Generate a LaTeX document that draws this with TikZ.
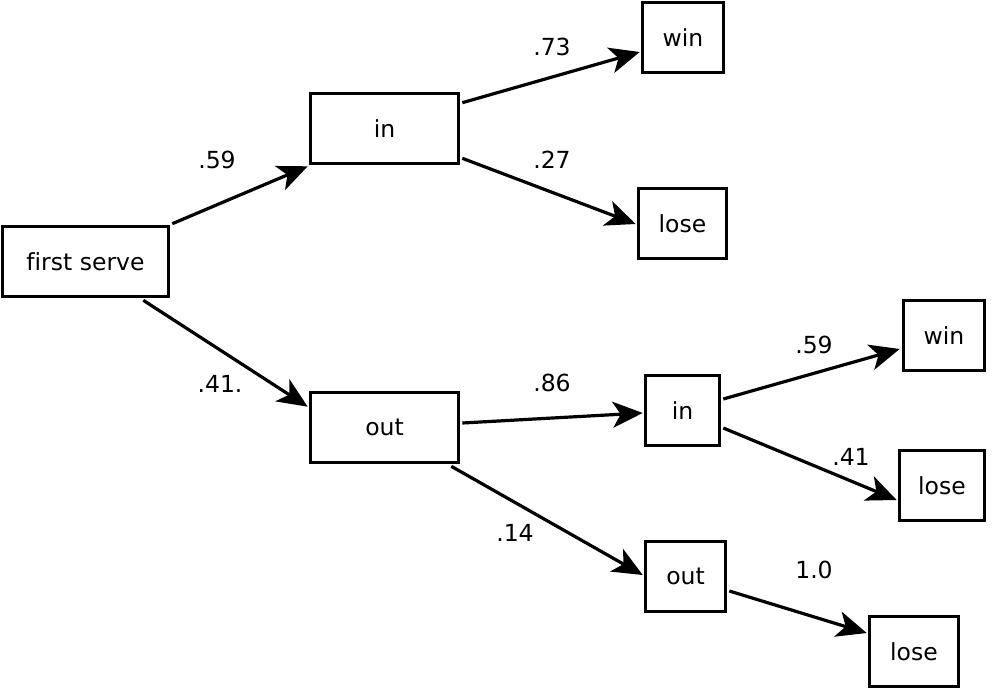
\documentclass[tikz,border=0pt]{standalone}
\usepackage{fontspec}
\setmainfont[Ligatures={NoCommon}]{DejaVu Sans}
\usetikzlibrary{arrows.meta,calc}
\begin{document}
\begin{tikzpicture}[x=1pt,y=-1pt,
  box/.style={draw,line width=3.6pt,rectangle,inner sep=0pt,font=\fontsize{23.5}{28}\selectfont},
  conn/.style={line width=3.2pt,-{Stealth[length=30pt,width=26pt,inset=8pt]}},
  lab/.style={font=\fontsize{23.5}{28}\selectfont}]
\useasboundingbox[fill=white] (0,0) rectangle (992,690);
\node[box,minimum width=166pt,minimum height=70pt] (fs) at (85.5,261.5) {first serve};
\node[box,minimum width=148pt,minimum height=70pt] (in1) at (384.5,128.5) {in};
\node[box,minimum width=81pt,minimum height=70pt] (win1) at (683,37.5) {win};
\node[box,minimum width=88pt,minimum height=70pt] (lose1) at (682.5,223.5) {lose};
\node[box,minimum width=148pt,minimum height=70pt] (out1) at (384.5,427.5) {out};
\node[box,minimum width=74pt,minimum height=70pt] (in2) at (682.5,410.5) {in};
\node[box,minimum width=81pt,minimum height=70pt] (win2) at (944,335.5) {win};
\node[box,minimum width=85pt,minimum height=70pt] (lose2) at (942,485.5) {lose};
\node[box,minimum width=80pt,minimum height=70pt] (out2) at (685.5,576.5) {out};
\node[box,minimum width=89pt,minimum height=70pt] (lose3) at (914,651.5) {lose};
\draw[conn] ($(fs.north east)+(2,-1)$) -- ($(in1.south west)+(-1,1)$);
\draw[conn] ($(fs.south east)+(-27,2)$) -- ($(out1.north west)+(-1,16)$);
\draw[conn] ($(in1.north east)+(2,11)$) -- ($(win1.west)+(-1,14.5)$);
\draw[conn] ($(in1.south east)+(2,-7)$) -- ($(lose1.west)+(-1,0.5)$);
\draw[conn] ($(out1.east)+(2,-4.5)$) -- ($(in2.west)+(-1,2.5)$);
\draw[conn] ($(out1.south east)+(-9,2)$) -- ($(out2.west)+(-1,-1.5)$);
\draw[conn] ($(in2.east)+(2,-11.5)$) -- ($(win2.west)+(-2,13.5)$);
\draw[conn] ($(in2.east)+(2,17.5)$) -- ($(lose2.west)+(-1,14.5)$);
\draw[conn] ($(out2.east)+(2,14.5)$) -- ($(lose3.west)+(-1,-18.5)$);
\node[lab] (l1) at (217,160) {.59};
\node[lab] (l2) at (220,384) {.41.};
\node[lab] (l3) at (552,47) {.73};
\node[lab] (l4) at (552,160) {.27};
\node[lab] (l5) at (552,383) {.86};
\node[lab] (l6) at (515,533) {.14};
\node[lab] (l7) at (814,345) {.59};
\node[lab] (l8) at (851,457) {.41};
\node[lab] (l9) at (814,570) {1.0};
\end{tikzpicture}
\end{document}
